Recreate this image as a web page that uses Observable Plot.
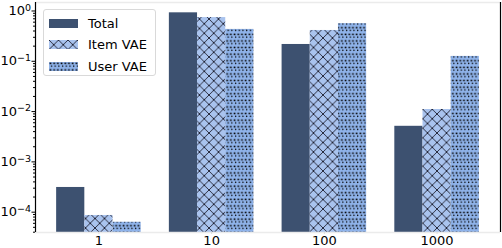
<!DOCTYPE html>
<html><head><meta charset="utf-8">
<script src="https://cdn.jsdelivr.net/npm/d3@7"></script>
<script src="https://cdn.jsdelivr.net/npm/@observablehq/plot@0.6"></script>
<style>
body{margin:0;background:#fff;font-family:"DejaVu Sans",sans-serif}
#wrap{position:relative;width:502px;height:248px;overflow:hidden}
#legend{position:absolute;left:43px;top:9px;width:111px;height:65px;border:1px solid #d9d9d9;border-radius:3px;background:rgba(255,255,255,0.8);font-size:13px;color:#000}
.row{position:absolute;left:0;height:14px;display:flex;align-items:center}
.row svg{margin-left:5px;margin-right:10px}
</style>
</head><body>
<div id="wrap"><div id="legend"></div></div>
<script>
const groups = ["1", "10", "100", "1000"];
const series = ["Total", "Item VAE", "User VAE"];
const total   = [3.1e-4, 0.92, 0.216, 5.1e-3];
const itemVAE = [8.6e-5, 0.74, 0.41, 0.011];
const userVAE = [6.3e-5, 0.43, 0.56, 0.125];
const yTicks = [1e-4, 1e-3, 1e-2, 1e-1, 1];
const yTickExponents = ["\u22124", "\u22123", "\u22122", "\u22121", "0"];

const values = {"Total": total, "Item VAE": itemVAE, "User VAE": userVAE};
const fills = {"Total": "#3d5170", "Item VAE": "url(#hatchCross)", "User VAE": "url(#hatchDots)"};
const rows = [];
groups.forEach((g, i) => series.forEach((s, j) => rows.push({gi: i, group: g, series: s, off: (j - 1) * 0.25, value: values[s][i]})));

const yMin = Math.pow(10, -4.404), yMax = Math.pow(10, 0.169);
const xMin = -0.5625, xMax = 3.5625;
const minor = [];
for (let e = -5; e <= 0; e++) for (let k = 2; k <= 9; k++) { const v = k * Math.pow(10, e); if (v > yMin && v < yMax) minor.push(v); }

const plot = Plot.plot({
  width: 502, height: 248,
  marginLeft: 35, marginRight: 2, marginTop: 2, marginBottom: 16,
  style: {fontFamily: "DejaVu Sans", fontSize: "13px", color: "#000", background: "#fff"},
  x: {domain: [xMin, xMax]},
  y: {type: "log", domain: [yMin, yMax]},
  marks: [
    ...series.map(s => Plot.rectY(rows.filter(d => d.series === s), {
      x1: d => d.gi + d.off - 0.125, x2: d => d.gi + d.off + 0.125,
      y1: yMin, y2: "value", fill: fills[s]
    })),
    Plot.ruleY([yMin, yMax], {stroke: "#ebebeb", strokeWidth: 1.5}),
    Plot.ruleX([xMin, xMax], {stroke: "#000", strokeWidth: 1.2}),
    Plot.axisY({ticks: minor, tickFormat: () => "", tickSize: 2, stroke: "#000", label: null}),
    Plot.axisY({ticks: yTicks, tickFormat: d => "10^" + yTickExponents[yTicks.indexOf(d)], tickSize: 3.5, tickPadding: 1, stroke: "#000", fontSize: 13, label: null}),
    Plot.axisX({ticks: groups.map((g, i) => i), tickFormat: i => groups[i], tickSize: 2, stroke: "#ddd", tickPadding: 1, fontSize: 13, label: null})
  ]
});

const defsMarkup = `
<pattern id="hatchCross" patternUnits="userSpaceOnUse" width="9.5" height="9.5">
  <rect width="9.5" height="9.5" fill="#a9c3ee"/>
  <path d="M0,0L9.5,9.5M9.5,0L0,9.5M-1,8.5L1,10.5M8.5,-1L10.5,1" stroke="#1a1a2a" stroke-width="0.9"/>
</pattern>
<pattern id="hatchDots" patternUnits="userSpaceOnUse" width="3.7" height="6.6">
  <rect width="3.7" height="6.6" fill="#8fb3ea"/>
  <rect x="0.6" y="0.6" width="1.7" height="1.5" fill="#000"/>
  <circle cx="2.5" cy="4.1" r="0.75" fill="#000"/>
</pattern>`;
const ns = "http://www.w3.org/2000/svg";
const defs = document.createElementNS(ns, "defs");
defs.innerHTML = defsMarkup;
plot.insertBefore(defs, plot.firstChild);

// render exponent as superscript
d3.select(plot).selectAll("text").each(function() {
  const t = this.textContent;
  if (t.startsWith("10^")) {
    const exp = t.slice(3);
    const sel = d3.select(this);
    sel.text("10");
    sel.append("tspan").attr("dy", "-0.45em").attr("font-size", "9.5px").text(exp);
  }
});

document.getElementById("wrap").insertBefore(plot, document.getElementById("legend"));

const legend = document.getElementById("legend");
const tops = [6, 27, 49];
series.forEach((s, j) => {
  const r = document.createElement("div");
  r.className = "row";
  r.style.top = tops[j] + "px";
  r.innerHTML = `<svg width="29" height="9"><rect width="29" height="9" fill="${fills[s]}"/></svg><span>${s}</span>`;
  legend.appendChild(r);
});
</script>
</body></html>
